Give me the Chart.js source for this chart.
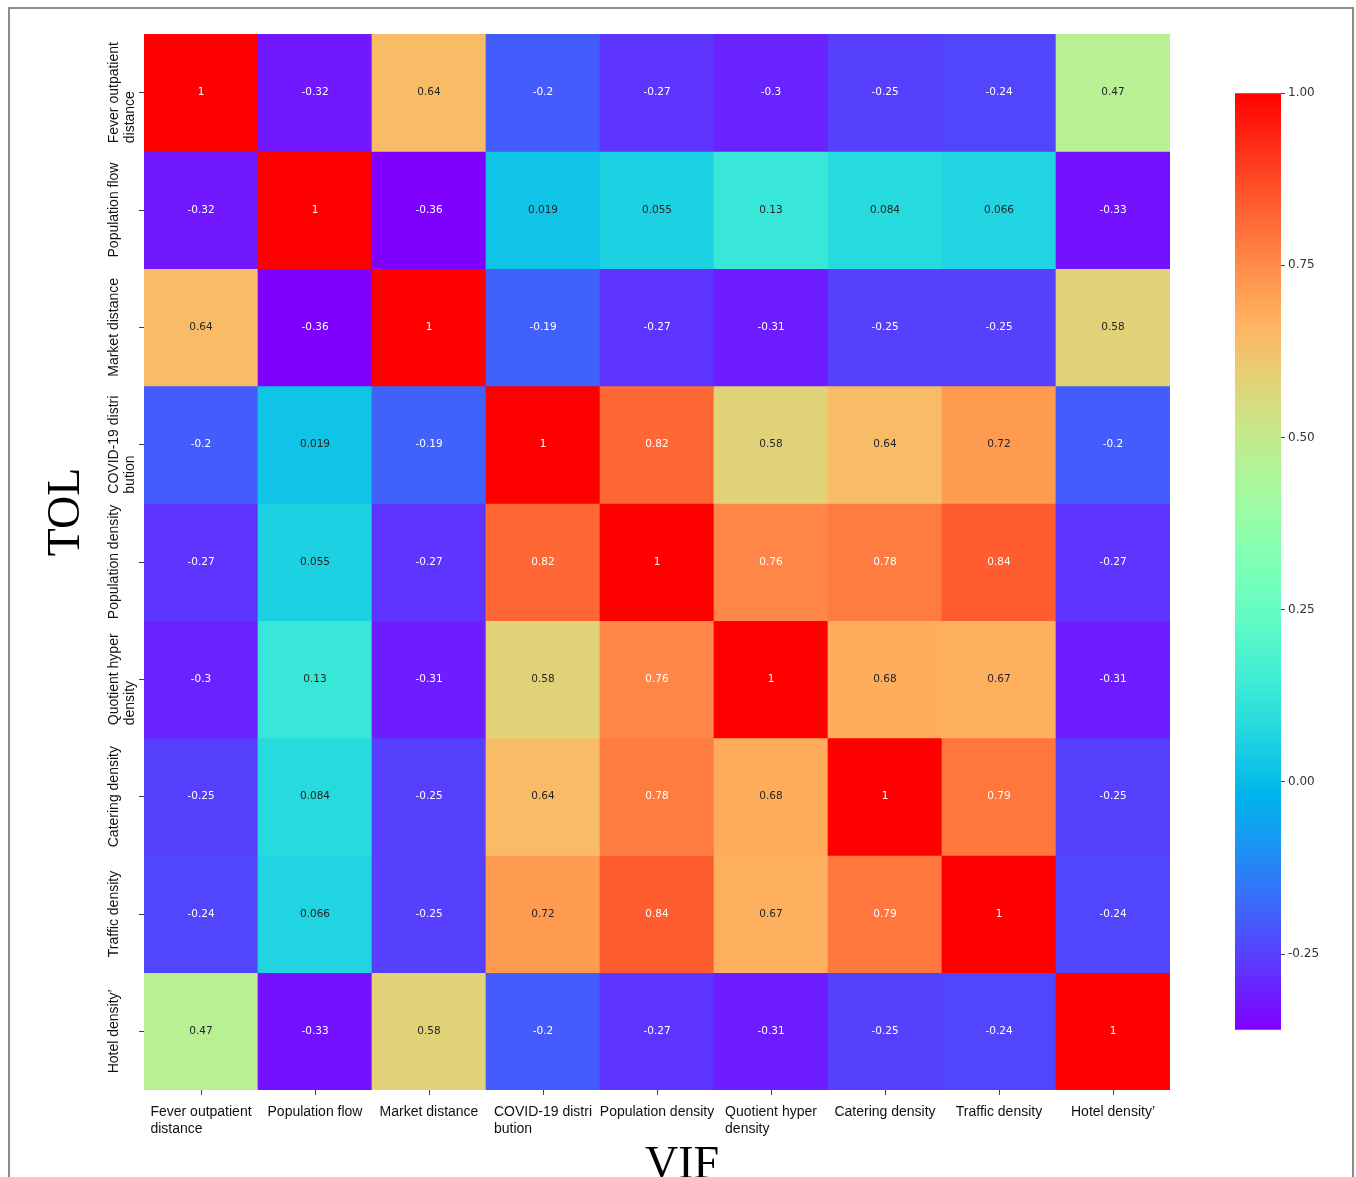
<!DOCTYPE html>
<html>
<head>
<meta charset="utf-8">
<script src="https://cdn.jsdelivr.net/npm/chart.js@4.4.1/dist/chart.umd.min.js"></script>
<style>
  html, body { margin: 0; padding: 0; background: #fff; }
  #frame { position: absolute; left: 8px; top: 7px; width: 1346px; height: 1190px; border: 2px solid #8c8c8c; box-sizing: border-box; }
  #heat { position: absolute; left: 0; top: 0; }
  #cbar { position: absolute; left: 1235px; top: 83px; }
</style>
</head>
<body>
<div id="frame"></div>
<canvas id="heat" width="1356" height="1177"></canvas>
<canvas id="cbar" width="110" height="957"></canvas>
<script>
/*===== DATA =====*/

const colLabels = [
  ["Fever outpatient", "distance"],
  ["Population flow"],
  ["Market distance"],
  ["COVID-19 distri", "bution"],
  ["Population density"],
  ["Quotient hyper", "density"],
  ["Catering density"],
  ["Traffic density"],
  ["Hotel density\u2019"]
];
const rowLabels = colLabels;

const rowFever     = [1, -0.32, 0.64, -0.2, -0.27, -0.3, -0.25, -0.24, 0.47];
const rowPopFlow   = [-0.32, 1, -0.36, 0.019, 0.055, 0.13, 0.084, 0.066, -0.33];
const rowMarket    = [0.64, -0.36, 1, -0.19, -0.27, -0.31, -0.25, -0.25, 0.58];
const rowCovid     = [-0.2, 0.019, -0.19, 1, 0.82, 0.58, 0.64, 0.72, -0.2];
const rowPopDens   = [-0.27, 0.055, -0.27, 0.82, 1, 0.76, 0.78, 0.84, -0.27];
const rowQuotient  = [-0.3, 0.13, -0.31, 0.58, 0.76, 1, 0.68, 0.67, -0.31];
const rowCatering  = [-0.25, 0.084, -0.25, 0.64, 0.78, 0.68, 1, 0.79, -0.25];
const rowTraffic   = [-0.24, 0.066, -0.25, 0.72, 0.84, 0.67, 0.79, 1, -0.24];
const rowHotel     = [0.47, -0.33, 0.58, -0.2, -0.27, -0.31, -0.25, -0.24, 1];

const matrix = [rowFever, rowPopFlow, rowMarket, rowCovid, rowPopDens, rowQuotient, rowCatering, rowTraffic, rowHotel];

const cbTicks = [-0.25, 0, 0.25, 0.5, 0.75, 1];

const vmin = Math.min(...matrix.flat());
const vmax = 1;

/*===== COLORS =====*/

// matplotlib "rainbow"
var rainbow = function(t) {
    t = Math.max(0, Math.min(1, t));
    var r = Math.abs(2 * t - 0.5);
    var g = Math.sin(Math.PI * t);
    var b = Math.cos(Math.PI / 2 * t);
    return [r, g, b].map(v => Math.round(Math.max(0, Math.min(1, v)) * 255));
};

var colorOf = function(v) {
    var c = rainbow((v - vmin) / (vmax - vmin));
    return "rgb(" + c.join(",") + ")";
};

var textColorOf = function(v) {
    var c = rainbow((v - vmin) / (vmax - vmin)).map(x => {
        x = x / 255;
        return x <= 0.03928 ? x / 12.92 : Math.pow((x + 0.055) / 1.055, 2.4);
    });
    var lum = 0.2126 * c[0] + 0.7152 * c[1] + 0.0722 * c[2];
    return lum > 0.408 ? "#262626" : "#ffffff";
};

const labelFont = "14px 'Liberation Sans', Arial, sans-serif";
const cellFont = "10.5px 'DejaVu Sans', sans-serif";
const titleFont = "46px 'Liberation Serif', 'Times New Roman', serif";

/*===== HEATMAP =====*/

const textPlugin = {
    id: "heatText",
    afterDraw(chart) {
        const ctx = chart.ctx;
        const xs = chart.scales.x, ys = chart.scales.y;
        const area = chart.chartArea;
        ctx.save();

        // cell values
        ctx.font = cellFont;
        ctx.textAlign = "center";
        ctx.textBaseline = "middle";
        matrix.forEach((row, r) => {
            const meta = chart.getDatasetMeta(r);
            row.forEach((v, c) => {
                const p = meta.data[c].getCenterPoint();
                ctx.fillStyle = textColorOf(v);
                ctx.fillText(String(v), p.x, p.y);
            });
        });

        // x tick labels
        ctx.font = labelFont;
        ctx.fillStyle = "#111";
        ctx.textAlign = "left";
        ctx.textBaseline = "alphabetic";
        colLabels.forEach((lines, i) => {
            const xc = xs.getPixelForValue(i);
            const w = Math.max(...lines.map(l => ctx.measureText(l).width));
            lines.forEach((l, k) => ctx.fillText(l, xc - w / 2, area.bottom + 26 + k * 17));
        });

        // y tick labels, rotated
        ctx.textBaseline = "middle";
        rowLabels.forEach((lines, i) => {
            const yc = ys.getPixelForValue(i + 0.5);
            const w = Math.max(...lines.map(l => ctx.measureText(l).width));
            ctx.save();
            ctx.translate(area.left - 30, yc);
            ctx.rotate(-Math.PI / 2);
            lines.forEach((l, k) => ctx.fillText(l, -w / 2, k * 16));
            ctx.restore();
        });

        // axis titles
        ctx.font = titleFont;
        ctx.fillStyle = "#000";
        ctx.textAlign = "center";
        ctx.textBaseline = "alphabetic";
        ctx.fillText("VIF", (area.left + area.right) / 2 + 25, area.bottom + 88);
        ctx.save();
        ctx.translate(area.left - 65, (area.top + area.bottom) / 2 - 50);
        ctx.rotate(-Math.PI / 2);
        ctx.fillText("TOL", 0, 0);
        ctx.restore();

        ctx.restore();
    }
};

new Chart("heat", {
    type: "bar",
    data: {
        labels: colLabels.map(l => l.join(" ")),
        datasets: matrix.map((row, r) => ({
            data: row.map(() => [r, r + 1]),
            backgroundColor: row.map(v => colorOf(v)),
            borderWidth: 0,
            barPercentage: 1,
            categoryPercentage: 1,
            grouped: false
        }))
    },
    options: {
        responsive: false,
        animation: false,
        layout: { padding: { left: 138, top: 34, right: 186, bottom: 81 } },
        plugins: {
            legend: { display: false },
            tooltip: { enabled: false }
        },
        scales: {
            x: {
                type: "category",
                offset: true,
                border: { display: false },
                grid: { offset: false, drawOnChartArea: false, tickLength: 5, color: "#444" },
                ticks: { display: false },
                afterFit: s => { s.height = 6; }
            },
            y: {
                type: "linear",
                reverse: true,
                min: 0,
                max: rowLabels.length,
                border: { display: false },
                grid: { drawOnChartArea: false, tickLength: 5, color: "#444" },
                ticks: { display: false },
                afterBuildTicks: s => { s.ticks = rowLabels.map((_, i) => ({ value: i + 0.5 })); },
                afterFit: s => { s.width = 6; }
            }
        }
    },
    plugins: [textPlugin]
});

/*===== COLORBAR =====*/

new Chart("cbar", {
    type: "bar",
    data: {
        labels: [""],
        datasets: [{
            data: [[vmin, vmax]],
            borderWidth: 0,
            barPercentage: 1,
            categoryPercentage: 1,
            backgroundColor: function(context) {
                const chart = context.chart;
                if (!chart.chartArea) return "#fff";
                const y = chart.scales.y;
                const g = chart.ctx.createLinearGradient(0, y.getPixelForValue(vmin), 0, y.getPixelForValue(vmax));
                for (let i = 0; i <= 64; i++) {
                    g.addColorStop(i / 64, "rgb(" + rainbow(i / 64).join(",") + ")");
                }
                return g;
            }
        }]
    },
    options: {
        responsive: false,
        animation: false,
        layout: { padding: { left: 0, top: 10, right: 0, bottom: 10 } },
        plugins: {
            legend: { display: false },
            tooltip: { enabled: false }
        },
        scales: {
            x: { display: false, offset: true },
            y: {
                position: "right",
                min: vmin,
                max: vmax,
                border: { display: false },
                grid: { drawOnChartArea: false, tickLength: 4, color: "#444" },
                ticks: {
                    color: "#333",
                    padding: 3,
                    font: { family: "'DejaVu Sans', sans-serif", size: 12 },
                    callback: v => v.toFixed(2)
                },
                afterBuildTicks: s => { s.ticks = cbTicks.map(v => ({ value: v })); },
                afterFit: s => { s.width = 64; }
            }
        }
    }
});
</script>
</body>
</html>
